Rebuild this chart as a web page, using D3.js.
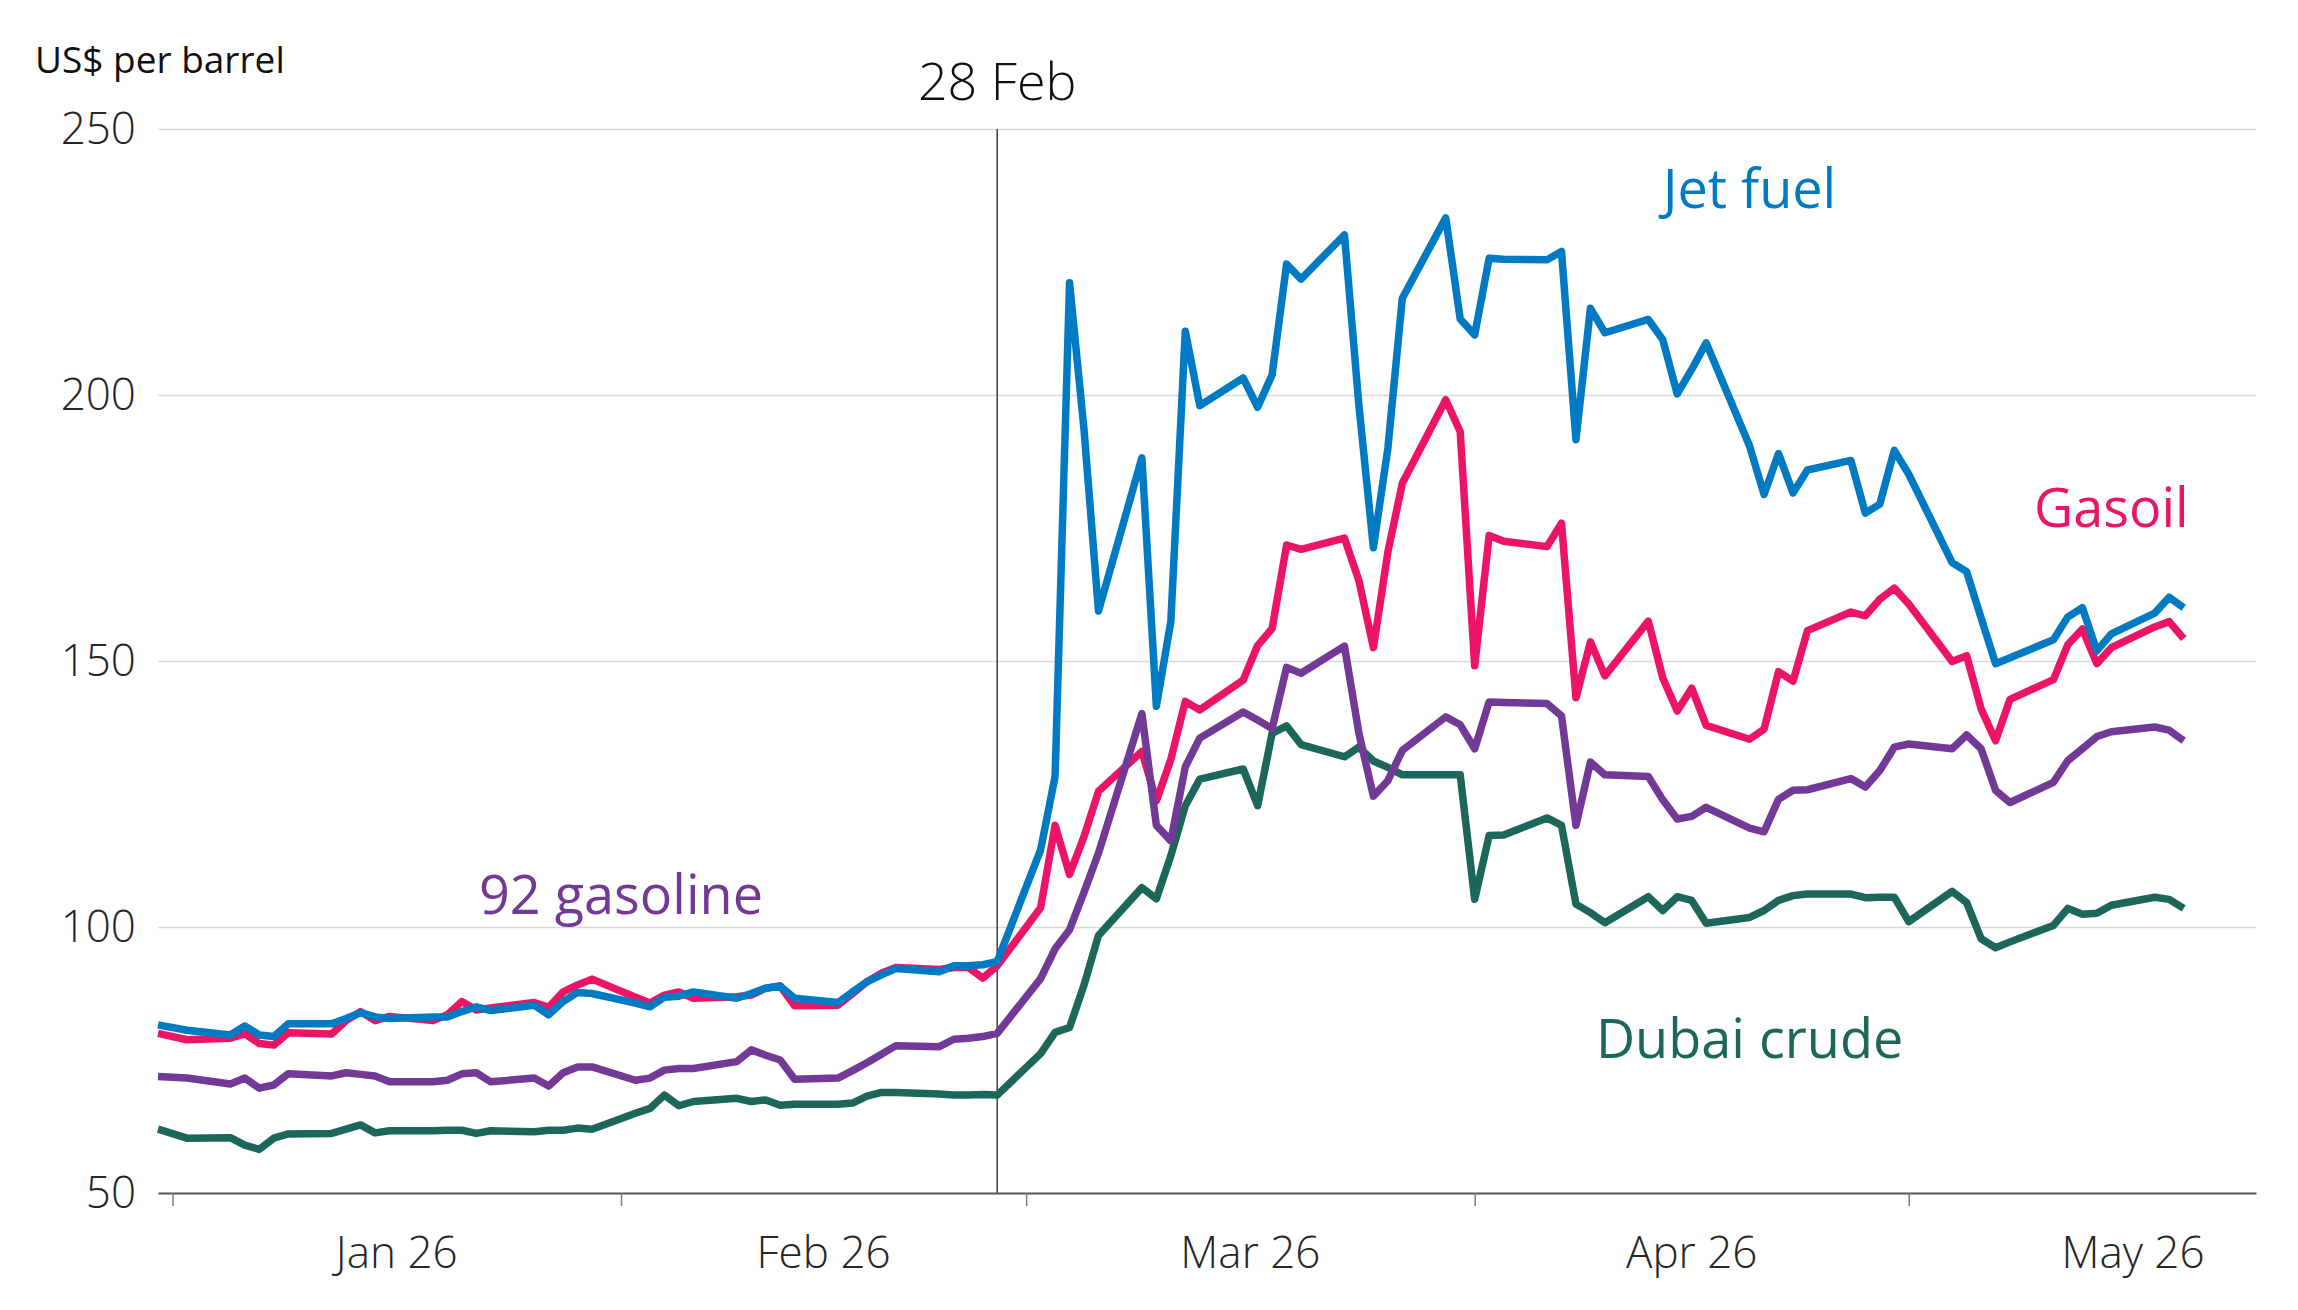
<!DOCTYPE html>
<html>
<head>
<meta charset="utf-8">
<script src="https://cdn.jsdelivr.net/npm/d3@7"></script>
<style>
  html, body { margin: 0; padding: 0; background: #fff; }
  svg { display: block; font-family: "Open Sans", "Noto Sans", sans-serif; }
  .tick-label { font-family: "Open Sans", "Noto Sans", sans-serif; font-weight: 300; fill: #262626; }
</style>
</head>
<body>
<div id="chart"></div>
<script>
// trading days shown on the chart
const dates = [
  '2025-12-31',
  '2026-01-02', '2026-01-05', '2026-01-06', '2026-01-07', '2026-01-08', '2026-01-09',
  '2026-01-12', '2026-01-13', '2026-01-14', '2026-01-15', '2026-01-16',
  '2026-01-19', '2026-01-20', '2026-01-21', '2026-01-22', '2026-01-23',
  '2026-01-26', '2026-01-27', '2026-01-28', '2026-01-29', '2026-01-30',
  '2026-02-02', '2026-02-03', '2026-02-04', '2026-02-05', '2026-02-06',
  '2026-02-09', '2026-02-10', '2026-02-11', '2026-02-12', '2026-02-13',
  '2026-02-16', '2026-02-17', '2026-02-18', '2026-02-19', '2026-02-20',
  '2026-02-23', '2026-02-24', '2026-02-25', '2026-02-26', '2026-02-27',
  '2026-03-02', '2026-03-03', '2026-03-04', '2026-03-05', '2026-03-06',
  '2026-03-09', '2026-03-10', '2026-03-11', '2026-03-12', '2026-03-13',
  '2026-03-16', '2026-03-17', '2026-03-18', '2026-03-19', '2026-03-20',
  '2026-03-23', '2026-03-24', '2026-03-25', '2026-03-26', '2026-03-27',
  '2026-03-30', '2026-03-31', '2026-04-01', '2026-04-02', '2026-04-03',
  '2026-04-06', '2026-04-07', '2026-04-08', '2026-04-09', '2026-04-10',
  '2026-04-13', '2026-04-14', '2026-04-15', '2026-04-16', '2026-04-17',
  '2026-04-20', '2026-04-21', '2026-04-22', '2026-04-23', '2026-04-24',
  '2026-04-27', '2026-04-28', '2026-04-29', '2026-04-30', '2026-05-01',
  '2026-05-04', '2026-05-05', '2026-05-06', '2026-05-07', '2026-05-08',
  '2026-05-11', '2026-05-12', '2026-05-13', '2026-05-14', '2026-05-15',
  '2026-05-18', '2026-05-19', '2026-05-20'
];

const dubaiCrude = [
  62.0,
  60.3, 60.4, 59.0, 58.2, 60.3, 61.1, 61.2, 62.0, 62.8, 61.3, 61.7,
  61.7, 61.8, 61.8, 61.2, 61.7, 61.5, 61.8, 61.8, 62.2, 62.0,
  65.0, 65.9, 68.4, 66.4, 67.2, 67.8, 67.2, 67.5, 66.5, 66.7,
  66.7, 66.9, 68.2, 68.9, 68.9, 68.6, 68.4, 68.4, 68.5, 68.4,
  76.2, 80.2, 81.1, 89.1, 98.4, 107.4, 105.3, 113.4, 122.8, 127.8,
  129.7, 122.8, 136.4, 137.8, 134.3, 132.0, 133.8, 131.2, 130.0, 128.6,
  128.6, 128.6, 105.2, 117.2, 117.3, 120.5, 119.1, 104.3, 102.7, 100.8,
  105.7, 103.1, 105.7, 105.0, 100.7, 101.8, 103.1, 105.0, 105.9, 106.2,
  106.2, 105.5, 105.6, 105.6, 101.0, 106.7, 104.6, 97.8, 96.1, 97.2,
  100.3, 103.5, 102.4, 102.6, 104.1, 105.6, 105.2, 103.5
];

const gasoline92 = [
  71.9,
  71.6, 70.5, 71.6, 69.7, 70.3, 72.4, 72.0, 72.6, 72.3, 72.0, 70.9,
  70.9, 71.2, 72.4, 72.6, 70.9, 71.6, 70.1, 72.6, 73.7, 73.7,
  71.2, 71.6, 73.1, 73.4, 73.4, 74.7, 76.9, 75.9, 75.0, 71.4,
  71.6, 73.0, 74.5, 76.1, 77.7, 77.5, 78.9, 79.1, 79.4, 80.0,
  90.3, 95.9, 99.5, 106.5, 113.9, 140.1, 119.1, 116.2, 130.1, 135.5,
  140.4, 138.9, 137.3, 148.8, 147.7, 152.8, 136.4, 124.6, 127.5, 133.2,
  139.5, 138.0, 133.5, 142.3, 142.2, 142.0, 139.7, 119.1, 131.0, 128.6,
  128.3, 123.9, 120.3, 120.8, 122.5, 118.6, 117.9, 124.0, 125.7, 125.8,
  127.9, 126.3, 129.4, 133.8, 134.4, 133.5, 136.1, 133.5, 125.7, 123.4,
  127.2, 131.3, 133.5, 135.8, 136.7, 137.6, 137.0, 135.0
];

const gasoil = [
  80.0,
  78.8, 79.1, 79.9, 78.1, 77.8, 80.1, 79.9, 82.4, 84.1, 82.4, 83.2,
  82.4, 83.5, 86.0, 84.4, 84.8, 85.8, 84.9, 87.8, 89.1, 90.2,
  86.8, 85.7, 87.2, 87.8, 86.6, 86.9, 87.2, 88.5, 88.9, 85.2,
  85.3, 87.5, 89.7, 91.3, 92.4, 92.0, 92.4, 92.4, 90.4, 92.7,
  103.6, 119.1, 109.9, 117.0, 125.5, 133.0, 123.7, 131.5, 142.4, 140.8,
  146.4, 152.9, 156.1, 171.8, 171.0, 173.1, 165.1, 152.5, 170.5, 183.4,
  199.1, 193.1, 149.1, 173.6, 172.5, 171.5, 175.9, 143.1, 153.6, 147.2,
  157.5, 146.8, 140.6, 144.9, 137.9, 135.3, 137.2, 148.0, 146.2, 155.7,
  159.2, 158.5, 161.6, 163.7, 160.7, 149.9, 151.0, 141.0, 135.0, 142.8,
  146.5, 153.1, 156.0, 149.5, 152.5, 156.4, 157.4, 154.2
];

const jetFuel = [
  81.6,
  80.6, 79.7, 81.4, 79.7, 79.4, 81.8, 81.8, 82.8, 83.9, 83.1, 82.8,
  83.1, 83.1, 84.1, 85.0, 84.3, 85.3, 83.5, 86.0, 87.7, 87.5,
  85.7, 85.0, 86.8, 87.0, 87.8, 86.6, 87.5, 88.5, 88.9, 86.6,
  85.8, 87.8, 89.7, 91.0, 92.2, 91.6, 92.7, 92.7, 92.9, 93.5,
  114.5, 128.3, 221.1, 193.5, 159.4, 188.2, 141.5, 157.4, 212.0, 198.0,
  203.2, 197.7, 203.8, 224.6, 221.8, 230.1, 198.0, 171.3, 190.0, 218.2,
  233.3, 214.3, 211.3, 225.7, 225.5, 225.4, 227.0, 191.6, 216.3, 211.7,
  214.2, 210.4, 200.2, 204.8, 209.8, 190.4, 181.3, 189.0, 181.6, 185.9,
  187.7, 177.8, 179.5, 189.6, 185.1, 168.5, 166.8, 158.1, 149.5, 150.6,
  154.0, 158.3, 160.0, 151.9, 155.1, 159.0, 162.0, 160.0
];

const yTicks = [50, 100, 150, 200, 250];
const monthStarts = ['2026-01-01', '2026-02-01', '2026-03-01', '2026-04-01', '2026-05-01'];
const monthLabels = ['Jan 26', 'Feb 26', 'Mar 26', 'Apr 26', 'May 26'];
const eventDate = '2026-02-27';
const eventLabel = '28 Feb';
const unitLabel = 'US$ per barrel';

function drawChart() {
    const W = 2298, H = 1310;
    const margin = { top: 129, right: 42, bottom: 117, left: 158 };
    const width = W - margin.left - margin.right;
    const height = H - margin.top - margin.bottom;
    const parse = d3.timeParse('%Y-%m-%d');

    const svg = d3.select('#chart').append('svg')
        .attr('width', W)
        .attr('height', H);

    const g = svg.append('g')
        .attr('transform', `translate(${margin.left},${margin.top})`);

    const xScale = d3.scaleTime()
        .domain([parse('2025-12-31'), parse('2026-05-25')])
        .range([0, width]);

    const yScale = d3.scaleLinear()
        .domain([50, 250])
        .range([height, 0]);

    // gridlines + y labels
    const yAxis = g.append('g')
        .call(d3.axisLeft(yScale).tickValues(yTicks).tickSize(-width).tickPadding(22))
        .attr('font-family', null)
        .attr('font-size', null);
    yAxis.select('.domain').remove();
    yAxis.selectAll('.tick line')
        .attr('stroke', '#d9d9d9')
        .attr('stroke-width', 1.5);
    yAxis.selectAll('.tick text')
        .attr('class', 'tick-label')
        .attr('fill', '#262626')
        .style('font-size', '44px');

    // x axis: ticks at month starts, labels mid-month
    const months = monthStarts.map(parse);
    const xAxis = g.append('g')
        .attr('transform', `translate(0,${height})`)
        .call(d3.axisBottom(xScale).tickValues(months).tickSize(13).tickSizeOuter(0).tickFormat(''));
    xAxis.select('.domain').attr('stroke', '#595959').attr('stroke-width', 2.2);
    xAxis.selectAll('.tick line').attr('stroke', '#7f7f7f').attr('stroke-width', 1.5);

    g.append('g').selectAll('text')
        .data(months)
        .join('text')
        .attr('class', 'tick-label')
        .attr('x', d => xScale(new Date(d.getTime() + (d3.timeMonth.offset(d, 1) - d) / 2)))
        .attr('y', height + 75)
        .attr('text-anchor', 'middle')
        .style('font-size', '44px')
        .text((d, i) => monthLabels[i]);

    // event marker
    const ex = xScale(parse(eventDate));
    g.append('line')
        .attr('x1', ex).attr('x2', ex)
        .attr('y1', 0).attr('y2', height)
        .attr('stroke', '#404040')
        .attr('stroke-width', 1.5);
    g.append('text')
        .attr('x', ex)
        .attr('y', -29)
        .attr('text-anchor', 'middle')
        .style('font-size', '52px')
        .style('font-weight', 300)
        .attr('fill', '#111')
        .text(eventLabel);

    svg.append('text')
        .attr('x', 35)
        .attr('y', 73)
        .style('font-size', '37px')
        .attr('fill', '#111')
        .text(unitLabel);

    const series = [
        { name: 'Dubai crude', values: dubaiCrude, color: '#1c665a', at: ['2026-04-20', 75.4] },
        { name: 'Gasoil', values: gasoil, color: '#ec1466', at: ['2026-05-15', 175.2] },
        { name: '92 gasoline', values: gasoline92, color: '#723997', at: ['2026-02-01', 102.4] },
        { name: 'Jet fuel', values: jetFuel, color: '#007bc3', at: ['2026-04-20', 235.2] }
    ];

    const line = d3.line()
        .x((d, i) => xScale(parse(dates[i])))
        .y(d => yScale(d));

    g.selectAll('.series-line')
        .data(series)
        .join('path')
        .attr('class', 'series-line')
        .attr('fill', 'none')
        .attr('stroke', d => d.color)
        .attr('stroke-width', 7.5)
        .attr('stroke-linejoin', 'round')
        .attr('d', d => line(d.values));

    g.selectAll('.series-label')
        .data(series)
        .join('text')
        .attr('class', 'series-label')
        .attr('x', d => xScale(parse(d.at[0])))
        .attr('y', d => yScale(d.at[1]))
        .attr('text-anchor', 'middle')
        .style('font-size', '54px')
        .attr('fill', d => d.color)
        .text(d => d.name);
}

drawChart();
</script>
</body>
</html>
